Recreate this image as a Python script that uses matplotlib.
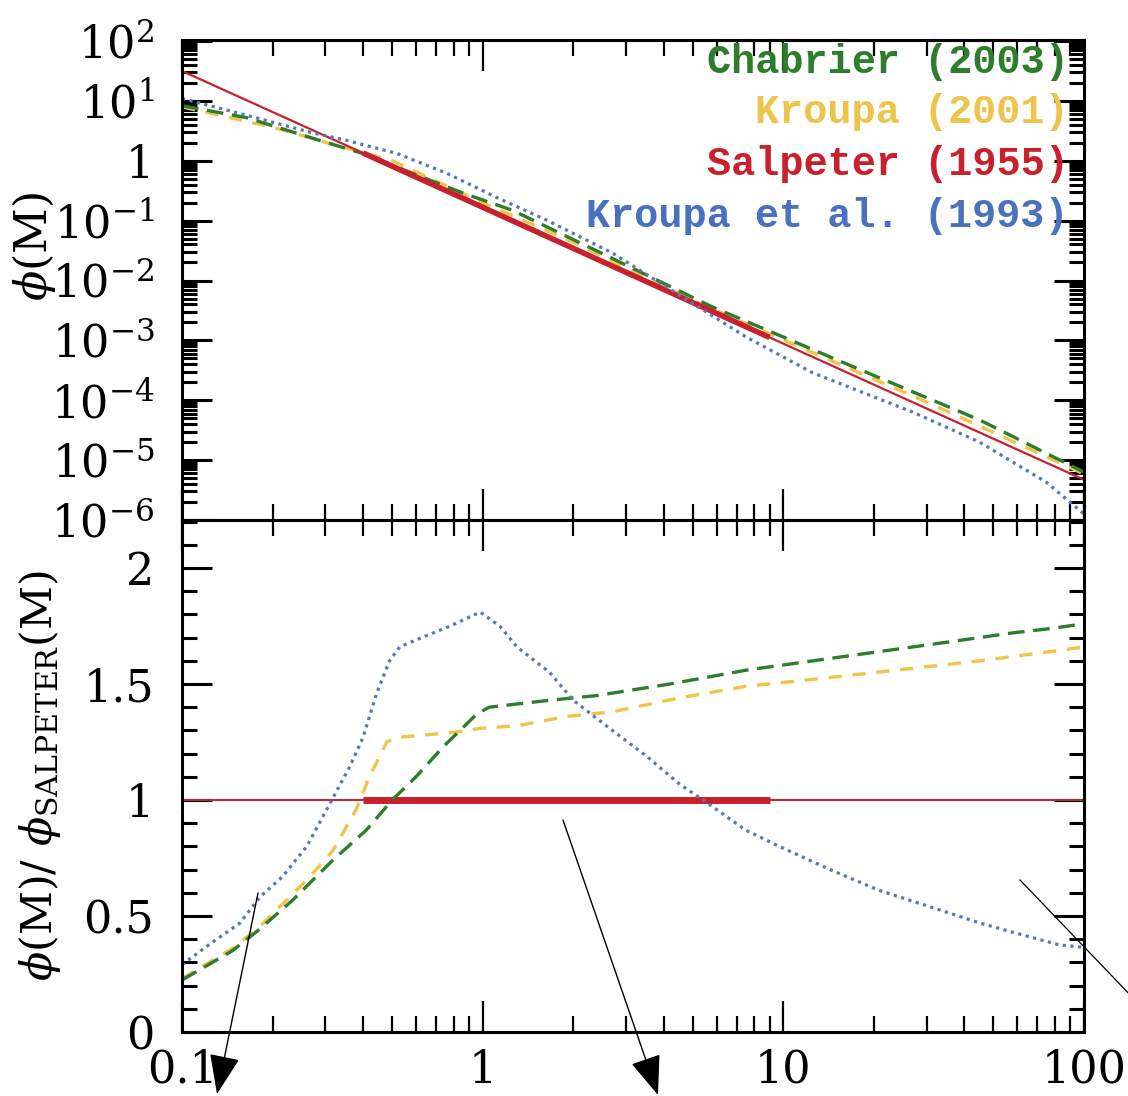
import numpy as np
import matplotlib
matplotlib.use("Agg")
import matplotlib.pyplot as plt
from matplotlib.ticker import (FixedLocator, LogLocator, NullFormatter,
                               FuncFormatter, MultipleLocator)
from matplotlib.patches import FancyArrowPatch
from matplotlib.lines import Line2D

plt.rcParams['font.family'] = ['DejaVu Serif']
plt.rcParams['mathtext.fontset'] = 'dejavuserif'

# ---------------- upper panel: phi(M) ----------------
salp_mass = [0.1, 0.4, 9.0, 100.0]
salp_phi = [31.6, 1.35, 1.12e-3, 4.7e-6]

chab_mass = [0.1, 0.164, 0.287, 0.40, 0.585, 0.86, 1.26, 2.5, 5.8, 16.0, 45.0, 100.0]
chab_logphi = [0.92, 0.72, 0.34, 0.12, -0.21, -0.54, -0.83, -1.55, -2.44, -3.38, -4.33, -5.2]

krou01_mass = [0.1, 0.2, 0.3, 0.5, 1.0, 2.0, 5.0, 10.0, 30.0, 100.0]
krou01_logphi = [0.90, 0.56, 0.31, 0.0, -0.70, -1.36, -2.33, -2.99, -4.03, -5.23]

krou93_mass = [0.1, 0.164, 0.27, 0.353, 0.52, 0.76, 1.11, 1.63, 2.7, 7.5, 12.5, 27.0, 45.0, 75.0, 100.0]
krou93_logphi = [1.04, 0.76, 0.47, 0.34, 0.12, -0.21, -0.61, -0.99, -1.54, -2.94, -3.54, -4.2, -4.7, -5.37, -5.9]

# ---------------- lower panel: phi(M) / phi_Salpeter(M) ----------------
chab_r_mass = [0.1, 0.147, 0.18, 0.234, 0.317, 0.41, 0.50, 0.60, 0.74, 0.955, 1.05,
               1.67, 2.39, 4.19, 7.55, 16.2, 34.9, 57.6, 78.6, 100.0]
chab_ratio = [0.224, 0.35, 0.44, 0.57, 0.74, 0.87, 1.0, 1.10, 1.23, 1.37, 1.40,
              1.43, 1.45, 1.50, 1.56, 1.62, 1.68, 1.72, 1.74, 1.76]

krou01_r_mass = [0.1, 0.147, 0.18, 0.26, 0.317, 0.38, 0.42, 0.48, 0.52, 0.78, 1.0,
                 1.3, 1.9, 2.7, 4.5, 7.5, 12.5, 23.8, 45.0, 83.0, 100.0]
krou01_ratio = [0.23, 0.36, 0.45, 0.655, 0.78, 0.96, 1.10, 1.25, 1.27, 1.29, 1.31,
                1.32, 1.36, 1.38, 1.44, 1.49, 1.52, 1.56, 1.60, 1.645, 1.66]

krou93_r_mass = [0.1, 0.124, 0.156, 0.181, 0.216, 0.26, 0.315, 0.36, 0.40, 0.444,
                 0.49, 0.53, 0.60, 0.78, 0.98, 1.14, 1.30, 1.67, 2.0, 2.7, 3.5,
                 4.5, 5.55, 7.5, 9.7, 14.3, 20.9, 30.7, 45.0, 58.0, 83.0, 100.0]
krou93_ratio = [0.29, 0.38, 0.47, 0.58, 0.67, 0.80, 1.0, 1.14, 1.27, 1.46,
                1.60, 1.66, 1.69, 1.75, 1.81, 1.75, 1.66, 1.55, 1.43, 1.30, 1.19,
                1.07, 0.99, 0.87, 0.80, 0.70, 0.61, 0.54, 0.47, 0.43, 0.375, 0.365]

salp_r_mass = [0.1, 0.4, 9.0, 100.0]
salp_ratio = [1.0, 1.0, 1.0, 1.0]

labels = ["Chabrier (2003)", "Kroupa (2001)", "Salpeter (1955)", "Kroupa et al. (1993)"]
xtick_vals = [0.1, 1, 10, 100]

C_GREEN = '#2d7d2d'
C_YELLOW = '#efc44a'
C_RED = '#c8202c'
C_BLUE = '#5877b6'
C_BLUE_TXT = '#4a70c0'

fig = plt.figure(figsize=(11.28, 10.96), dpi=100)
L, W = 182 / 1128, 902 / 1128
ax1 = fig.add_axes([L, 1 - 520 / 1096, W, 480 / 1096])
ax2 = fig.add_axes([L, 1 - 1032 / 1096, W, 512 / 1096], sharex=ax1)

green_kw = dict(color=C_GREEN, lw=2.4, dashes=(5.0, 2.6))
yellow_kw = dict(color=C_YELLOW, lw=2.4, dashes=(4.0, 3.2))
blue_kw = dict(color=C_BLUE, lw=2.3, dashes=(1.0, 1.4))

# upper panel curves
ax1.plot(krou01_mass, 10 ** np.array(krou01_logphi), **yellow_kw)
ax1.plot(chab_mass, 10 ** np.array(chab_logphi), **green_kw)
ax1.plot(salp_mass, salp_phi, color=C_RED, lw=1.6)
ax1.plot(salp_mass[1:3], salp_phi[1:3], color=C_RED, lw=4.0, solid_capstyle='butt')
ax1.plot(krou93_mass, 10 ** np.array(krou93_logphi), **blue_kw)

# lower panel curves
ax2.plot(salp_r_mass, salp_ratio, color=C_RED, lw=1.4)
ax2.plot(salp_r_mass[1:3], salp_ratio[1:3], color=C_RED, lw=5, solid_capstyle='butt')
ax2.plot(krou01_r_mass, krou01_ratio, **yellow_kw)
ax2.plot(chab_r_mass, chab_ratio, **green_kw)
ax2.plot(krou93_r_mass, krou93_ratio, **blue_kw)

for ax in (ax1, ax2):
    ax.set_xscale('log')
    ax.set_xlim(0.1, 100)
    for s in ax.spines.values():
        s.set_linewidth(2.2)
    ax.tick_params(which='both', direction='in', top=True, right=True,
                   labelsize=32, colors='black')
    ax.tick_params(axis='y', which='major', length=21.5, width=2.2, pad=20)
    ax.tick_params(axis='y', which='minor', length=11, width=2.2)
    ax.tick_params(axis='x', which='major', length=22.5, width=1.6, pad=12)
    ax.tick_params(axis='x', which='minor', length=11.5, width=1.6)
    ax.xaxis.set_major_locator(FixedLocator(xtick_vals))
    ax.xaxis.set_minor_locator(LogLocator(base=10, subs=np.arange(2, 10)))
    ax.xaxis.set_minor_formatter(NullFormatter())

ax1.set_yscale('log')
ax1.set_ylim(1e-6, 1.04e2)
ax1.yaxis.set_major_locator(LogLocator(base=10, numticks=20))
ax1.yaxis.set_minor_locator(LogLocator(base=10, subs=np.arange(2, 10), numticks=20))
ax1.yaxis.set_minor_formatter(NullFormatter())


def log_label(v, pos):
    e = int(round(np.log10(v)))
    return '1' if e == 0 else r'$10^{%d}$' % e


ax1.yaxis.set_major_formatter(FuncFormatter(log_label))
ax1.tick_params(axis='x', labelbottom=False)
ax1.set_ylabel(r'$\phi$(M)', fontsize=32)
ax1.yaxis.set_label_coords(-0.137, 0.57)

ax2.set_ylim(0, 2.207)
ax2.yaxis.set_major_locator(FixedLocator([0, 0.5, 1, 1.5, 2]))
ax2.yaxis.set_minor_locator(MultipleLocator(0.1))
ax2.yaxis.set_major_formatter(FuncFormatter(lambda v, p: '%g' % v))
ax2.xaxis.set_major_formatter(FuncFormatter(lambda v, p: '%g' % v))
ax2.set_ylabel(r'$\phi$(M)/ $\phi_{\rm SALPETER}$(M)', fontsize=31)
ax2.yaxis.set_label_coords(-0.132, 0.5)

# colour-coded key in the upper right
key_colors = [C_GREEN, C_YELLOW, C_RED, C_BLUE_TXT]
key_y = [0.954, 0.850, 0.742, 0.633]
for lab, col, yy in zip(labels, key_colors, key_y):
    ax1.text(0.983, yy, lab, transform=ax1.transAxes, ha='right', va='center',
             color=col, fontsize=29, family='Liberation Mono', weight='bold')


def fpix(x, y):
    return (x / 1128, 1 - y / 1096)


for start, end in [((258, 893), (217, 1094)), ((563, 820), (658, 1095))]:
    fig.add_artist(FancyArrowPatch(fpix(*start), fpix(*end), transform=fig.transFigure,
                                   arrowstyle='-|>,head_length=0.7,head_width=0.27',
                                   mutation_scale=36, lw=1, color='black',
                                   shrinkA=0, shrinkB=0))
p0, p1 = fpix(1020, 880), fpix(1135, 1000)
fig.add_artist(Line2D([p0[0], p1[0]], [p0[1], p1[1]], transform=fig.transFigure,
                      color='black', lw=0.9))

fig.savefig('out.png', dpi=100)
